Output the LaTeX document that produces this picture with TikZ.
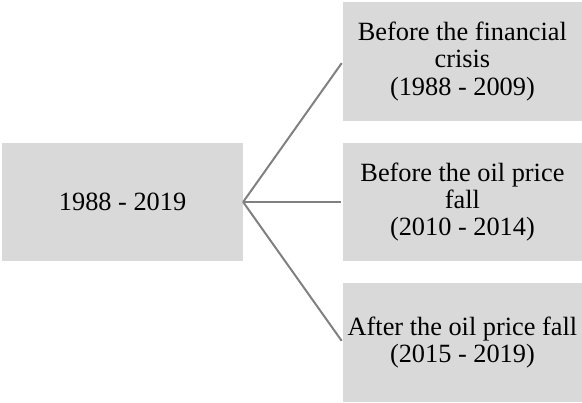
\documentclass[tikz,border=0pt]{standalone}
\usepackage{fontspec}
\setmainfont{Liberation Serif}
\usepackage{xcolor}
\usepackage{tikz}
\usetikzlibrary{positioning, calc}
\definecolor{boxgray}{HTML}{D9D9D9}
\definecolor{linegray}{HTML}{808080}

\begin{document}
\begin{tikzpicture}[
    period/.style={rectangle, fill=boxgray, draw=none, inner sep=0pt,
                   minimum width=119.5pt, minimum height=59.25pt, align=center,
                   font=\fontsize{13.2}{13.75}\selectfont},
    link/.style={linegray, line width=1pt, shorten >=1pt}
]
\node[period, minimum width=120.5pt, minimum height=59.5pt] (whole) {1988 - 2019};
\node[period, right=50pt of whole] (oilup) {Before the oil price\\fall\\(2010 - 2014)};
\node[period, above=10.8pt of oilup] (precrisis) {Before the financial\\crisis\\(1988 - 2009)};
\node[period, below=10.8pt of oilup] (oildown) {After the oil price fall\\(2015 - 2019)};
\draw[link] (whole.east) -- (precrisis.west);
\draw[link] (whole.east) -- (oilup.west);
\draw[link] (whole.east) -- (oildown.west);
\useasboundingbox ($(precrisis.north east)+(0,1pt)$) rectangle ($(oildown.south -| whole.west)+(-1pt,0)$);
\end{tikzpicture}
\end{document}
